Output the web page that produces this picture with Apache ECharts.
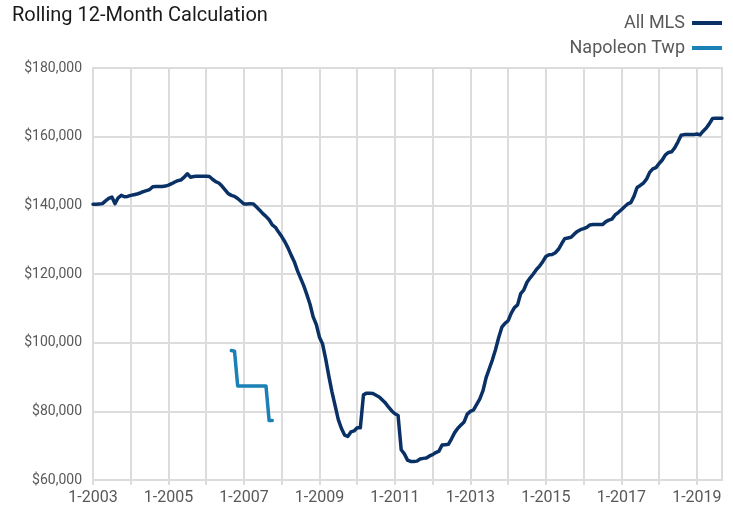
<!DOCTYPE html>
<html>
<head>
<meta charset="utf-8">
<script src="https://cdn.jsdelivr.net/npm/echarts@6/dist/echarts.min.js"></script>
<style>
html,body{margin:0;padding:0;background:#fff;}
#chart{width:733px;height:515px;}
</style>
</head>
<body>
<div id="chart"></div>
<script>
// Monthly categories: 1-2003 .. 9-2019
const startYear = 2003;
const monthCount = 201;
const categories = [];
for (let i = 0; i < monthCount; i++) {
  categories.push(((i % 12) + 1) + '-' + (startYear + Math.floor(i / 12)));
}

const yTicks = [60000, 80000, 100000, 120000, 140000, 160000, 180000];

// All MLS rolling 12-month values
const allMLS = [
  140300,140300,140400,140500,141300,142000,142400,140500,142200,142900,142500,142600,
  142900,143100,143300,143600,144000,144300,144600,145400,145500,145500,145500,145600,
  145900,146300,146800,147200,147400,148200,149200,148200,148400,148500,148500,148500,
  148500,148400,147600,146900,146500,145600,144500,143400,142900,142600,142000,141200,
  140400,140400,140500,140400,139500,138600,137600,136800,135800,134300,133600,132200,
  130900,129400,127600,125500,123600,121000,118800,116600,114000,111200,107500,105300,
  101600,99600,95200,90200,85600,81600,77600,75000,73100,72700,74000,74300,
  75200,75200,84800,85300,85300,85200,84700,84200,83300,82400,81200,80100,
  79300,78800,68800,67600,65800,65400,65400,65500,66100,66300,66400,67000,
  67400,68000,68400,70200,70300,70400,72000,73800,75100,76000,76900,79200,
  80000,80400,82000,83600,86000,89800,92400,95000,98000,101500,104500,105600,
  106400,108600,110200,111000,114300,115400,117600,118900,120000,121300,122300,123600,
  125100,125600,125700,126200,127200,128800,130300,130500,130700,131600,132400,132900,
  133200,133600,134300,134400,134400,134400,134400,135200,135700,136000,137200,137900,
  138700,139600,140400,140800,142600,145200,145800,146500,147600,149600,150600,151000,
  152200,153200,154700,155400,155600,156800,158500,160400,160600,160600,160600,160600,
  160800,160500,161600,162500,163800,165300,165400,165400,165400
];

// Napoleon Twp (9-2006 .. 10-2007)
const napoleonMonths = ['9-2006','10-2006','11-2006','12-2006','1-2007','2-2007','3-2007',
  '4-2007','5-2007','6-2007','7-2007','8-2007','9-2007','10-2007'];
const napoleonValues = [97700,97500,87400,87400,87400,87400,87400,87400,87400,87400,87400,87400,77300,77300];

const gridColor = '#dcdcdc';
const textColor = '#595959';
const fontFam = 'Roboto, "Liberation Sans", sans-serif';

const chart = echarts.init(document.getElementById('chart'), null, {renderer: 'canvas'});
chart.setOption({
  animation: false,
  backgroundColor: '#fff',
  title: {
    text: 'Rolling 12-Month Calculation',
    left: 7, top: 1,
    textStyle: {fontFamily: fontFam, fontSize: 20, fontWeight: 'normal', color: '#1a1a1a'}
  },
  legend: {
    orient: 'vertical',
    right: 6, top: 9,
    align: 'right',
    icon: 'rect',
    itemWidth: 30, itemHeight: 4,
    itemGap: 7,
    textStyle: {fontFamily: fontFam, fontSize: 18, color: textColor, padding: [0, 2, 0, 0]},
    data: ['All MLS', 'Napoleon Twp']
  },
  grid: {
    left: 93, right: 11, top: 68, bottom: 35,
    show: true, borderColor: gridColor, borderWidth: 2,
    containLabel: false
  },
  xAxis: {
    type: 'category',
    data: categories,
    boundaryGap: false,
    axisLine: {show: true, lineStyle: {color: gridColor, width: 2}},
    axisTick: {show: true, interval: 11, length: 5, lineStyle: {color: gridColor, width: 2}},
    splitLine: {show: true, interval: 11, lineStyle: {color: gridColor, width: 2}},
    axisLabel: {interval: 23, margin: 10, fontFamily: fontFam, fontSize: 16, color: textColor}
  },
  yAxis: {
    type: 'value',
    min: yTicks[0], max: yTicks[yTicks.length - 1], interval: 20000,
    axisLine: {show: false},
    axisTick: {show: false},
    splitLine: {show: true, lineStyle: {color: gridColor, width: 2}},
    axisLabel: {
      margin: 11, fontFamily: fontFam, fontSize: 14, color: textColor,
      formatter: v => '$' + v.toLocaleString('en-US')
    }
  },
  series: [
    {
      name: 'All MLS', type: 'line', data: allMLS, symbol: 'none',
      color: '#0a3166',
      lineStyle: {width: 3.5, color: '#0a3166', cap: 'round', join: 'round'}
    },
    {
      name: 'Napoleon Twp', type: 'line',
      data: napoleonMonths.map((m, i) => [m, napoleonValues[i]]),
      symbol: 'none',
      color: '#1a80b6',
      lineStyle: {width: 3.5, color: '#1a80b6', cap: 'round', join: 'round'}
    }
  ]
});
</script>
</body>
</html>
